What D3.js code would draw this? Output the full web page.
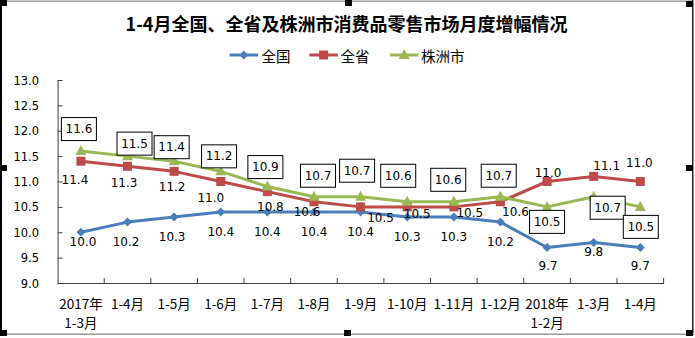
<!DOCTYPE html>
<html><head><meta charset="utf-8">
<script src="https://cdn.jsdelivr.net/npm/d3@7"></script>
<style>body{margin:0;background:#fff;}svg{display:block;}</style>
</head><body>
<svg id="chart" width="695" height="338"></svg>
<script>
const title = "1-4月全国、全省及株洲市消费品零售市场月度增幅情况";
const categories = ["2017年\n1-3月","1-4月","1-5月","1-6月","1-7月","1-8月","1-9月","1-10月","1-11月","1-12月","2018年\n1-2月","1-3月","1-4月"];
const seriesNames = ["全国","全省","株洲市"];
const national = [10.0,10.2,10.3,10.4,10.4,10.4,10.4,10.3,10.3,10.2,9.7,9.8,9.7];
const province = [11.4,11.3,11.2,11.0,10.8,10.6,10.5,10.5,10.5,10.6,11.0,11.1,11.0];
const zhuzhou  = [11.6,11.5,11.4,11.2,10.9,10.7,10.7,10.6,10.6,10.7,10.5,10.7,10.5];
const yTicks = [9.0,9.5,10.0,10.5,11.0,11.5,12.0,12.5,13.0];

// label placement offsets (styling only)
const nationalOff = [[2,10],[-1.5,20],[-2,20],[0,20],[0,20],[0,20],[0,20],[0,20],[0,20],[0,20],[1,19],[0,10],[0,19]];
const provinceOff = [[-6,19],[-3.5,17],[-2,16],[-10,16.5],[3,15.5],[-7,10],[20,11],[10,7],[16,6],[15,10],[1,-9],[13,-10],[-1,-19]];
const zhuzhouOff  = [[-2,-22],[7,-12.5],[-2.5,-14],[-1.7,-15],[-2,-19.5],[4,-21],[-3.5,-26],[-9,-26],[-5.6,-22],[-1.7,-21],[0,15],[14,11],[0.5,20]];

const colors = ["#4a7ebb","#be4b48","#98b954"];
const svg = d3.select("#chart");

const idx = d3.range(categories.length);
const x = d3.scaleBand().domain(idx).range([57.6, 663.6]).padding(0);
const cx = i => x(i) + x.bandwidth()/2;
const y = d3.scaleLinear().domain([9,13]).range([283,80]);

// frame
svg.append("rect").attr("x",0).attr("y",0.5).attr("width",693).attr("height",1.3).attr("fill","#8a8a8a");
svg.append("rect").attr("x",0).attr("y",333.5).attr("width",691).attr("height",1.5).attr("fill","#9a9a9a");
svg.append("rect").attr("x",0).attr("y",0).attr("width",2).attr("height",335).attr("fill","#000");
svg.append("rect").attr("x",692).attr("y",0).attr("width",1.5).attr("height",335).attr("fill","#1a2a1a");
[[0,0],[345,0],[686,1],[0,165],[686,165],[0,330],[344,330],[686,330]].forEach(p=>{
  svg.append("rect").attr("x",p[0]).attr("y",p[1]).attr("width",7).attr("height",6).attr("fill","#000");
});

// title
svg.append("text").attr("x",346.5).attr("y",23).attr("text-anchor","middle").attr("dominant-baseline","central")
  .attr("font-family","'Noto Sans CJK SC'").attr("font-weight","bold").attr("font-size",18).attr("fill","#000").text(title);

// axes
const yAxis = d3.axisLeft(y).tickValues(yTicks).tickFormat(d3.format(".1f")).tickSizeInner(-5).tickSizeOuter(0).tickPadding(0);
const gy = svg.append("g").attr("transform","translate(57.6,0)").call(yAxis);
gy.select(".domain").attr("stroke","#404040");
gy.selectAll(".tick line").attr("stroke","#404040");
gy.selectAll(".tick text").attr("x",-18.6).attr("text-anchor","end").attr("dominant-baseline","central").attr("dy",null)
  .attr("font-family","'DejaVu Sans'").attr("font-size",11.5).attr("fill","#000");

const xAxis = d3.axisBottom(x).tickSize(0).tickFormat("");
const gx = svg.append("g").attr("transform","translate(0,283)").call(xAxis);
gx.select(".domain").attr("stroke","#404040");
// tick marks at band boundaries (inside)
const bounds = idx.map(i=>x(i)).concat([x(idx[idx.length-1])+x.bandwidth()]);
svg.append("g").selectAll("line").data(bounds.slice(1)).join("line")
  .attr("x1",d=>d).attr("x2",d=>d).attr("y1",283).attr("y2",278).attr("stroke","#404040");
// x labels
const xl = svg.append("g");
categories.forEach((c,ci)=>{
  const lines = c.split("\n");
  lines.forEach((t,i)=>{
    xl.append("text").attr("x",cx(ci)).attr("y",302.7+i*19).attr("text-anchor","middle").attr("dominant-baseline","central")
      .attr("font-family","'Noto Sans CJK SC'").attr("font-size",13.5).attr("fill","#000").text(t);
  });
});

function marker(g, k, px, py){
  if(k===0){
    g.append("path").attr("d",`M${px},${py-4.5}L${px+4.5},${py}L${px},${py+4.5}L${px-4.5},${py}Z`).attr("fill",colors[0]);
  } else if(k===1){
    g.append("rect").attr("x",px-4.5).attr("y",py-4.5).attr("width",9).attr("height",9).attr("fill",colors[1]);
  } else {
    g.append("path").attr("d",`M${px},${py-6}L${px+5.5},${py+4}L${px-5.5},${py+4}Z`).attr("fill",colors[2]);
  }
}

const all = [national, province, zhuzhou];
const offs = [nationalOff, provinceOff, zhuzhouOff];
const line = d3.line().x((d,i)=>cx(i)).y(d=>y(d));
all.forEach((vals,k)=>{
  const g = svg.append("g");
  g.append("path").attr("d",line(vals)).attr("fill","none").attr("stroke",colors[k]).attr("stroke-width",3).attr("stroke-linejoin","round");
  vals.forEach((v,i)=>marker(g,k,cx(i),y(v)));
});
// labels
all.forEach((vals,k)=>{
  const g = svg.append("g");
  vals.forEach((v,i)=>{
    const lx = cx(i) + offs[k][i][0];
    const ly = y(v) + offs[k][i][1];
    if(k===2){
      g.append("rect").attr("x",lx-17.5).attr("y",ly-11.5).attr("width",35).attr("height",23)
        .attr("fill","#fff").attr("stroke","#000").attr("stroke-width",1);
    }
    g.append("text").attr("x",lx).attr("y",ly).attr("text-anchor","middle").attr("dominant-baseline","central")
      .attr("font-family","'DejaVu Sans'").attr("font-size",12).attr("fill","#000").text(v.toFixed(1));
  });
});

// legend
const legendX = [[229.6,261.5],[309.4,340.4],[390,421]];
seriesNames.forEach((n,k)=>{
  const g = svg.append("g");
  g.append("line").attr("x1",legendX[k][0]).attr("x2",legendX[k][0]+28.5).attr("y1",55).attr("y2",55).attr("stroke",colors[k]).attr("stroke-width",3);
  marker(g,k,legendX[k][0]+14.2,55);
  g.append("text").attr("x",legendX[k][1]).attr("y",55).attr("dominant-baseline","central")
    .attr("font-family","'Noto Sans CJK SC'").attr("font-size",14.5).attr("fill","#000").text(n);
});
</script>
</body></html>
